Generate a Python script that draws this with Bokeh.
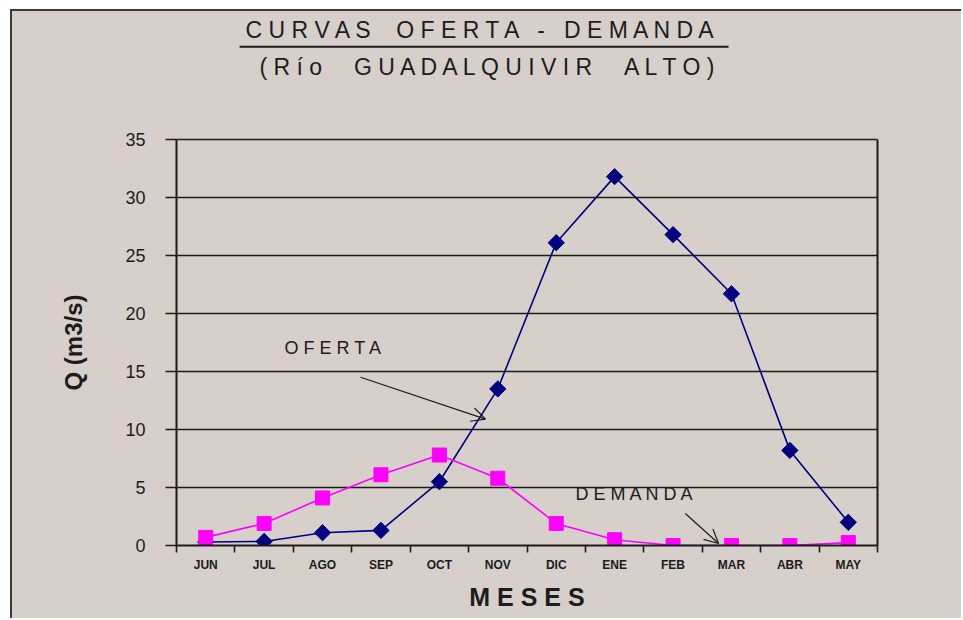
from bokeh.plotting import figure
from bokeh.models import Range1d, FixedTicker, Label, Arrow, OpenHead, LinearAxis, Title
from bokeh.embed import file_html
from bokeh.resources import INLINE

# ---- data ----
months = ["JUN", "JUL", "AGO", "SEP", "OCT", "NOV", "DIC", "ENE", "FEB", "MAR", "ABR", "MAY"]
oferta = [0.3, 0.35, 1.1, 1.3, 5.5, 13.5, 26.1, 31.8, 26.8, 21.7, 8.2, 2.0]
demanda = [0.7, 1.9, 4.1, 6.1, 7.8, 5.8, 1.9, 0.5, 0.0, 0.0, 0.0, 0.25]
y_ticks = [0, 5, 10, 15, 20, 25, 30, 35]
y_max = 35

NB = "\u00a0"
title_text = "C U R V A S " + NB * 3 + "O F E R T A " + NB * 2 + "- " + NB * 2 + "D E M A N D A"
subtitle_text = "( R í o " + NB * 4 + "G U A D A L Q U I V I R " + NB * 4 + "A L T O )"
y_label = "Q (m3/s)"
x_label = "M E S E S"

# ---- style ----
BG = "#d7cfc9"
INK = "#1c1c1c"
FONT = "Liberation Sans"
NAVY = "#000080"
MAGENTA = "#ff00ff"

PX_PER_UNIT = 406 / 35.0          # vertical scale of the frame
TOP_EXTRA = 128 / PX_PER_UNIT     # room above the 35 line for the titles

xs = [i + 0.5 for i in range(len(months))]

p = figure(width=951, height=609, output_backend="svg", toolbar_location=None,
           title_location=None,
           x_range=Range1d(0, len(months)), y_range=Range1d(0, y_max + TOP_EXTRA),
           background_fill_color=None, border_fill_color=BG,
           min_border_left=164, min_border_right=86, min_border_top=0, min_border_bottom=75)
p.styles = {"margin-left": "10px", "margin-top": "9px", "background-color": BG,
            "border-left": "2px solid #3a3a3a", "border-top": "2px solid #3a3a3a"}

p.outline_line_color = None
p.xgrid.visible = False
p.ygrid.grid_line_color = INK
p.ygrid.grid_line_width = 1.6

# y axis
p.yaxis.ticker = FixedTicker(ticks=y_ticks)
p.yaxis.bounds = (0, y_max)
p.yaxis.axis_line_color = INK
p.yaxis.axis_line_width = 2
p.yaxis.major_tick_out = 11
p.yaxis.major_tick_in = 0
p.yaxis.major_tick_line_color = INK
p.yaxis.major_tick_line_width = 1.6
p.yaxis.minor_tick_line_color = None
p.yaxis.major_label_text_font = FONT
p.yaxis.major_label_text_font_size = "18px"
p.yaxis.major_label_text_color = INK
p.yaxis.major_label_standoff = 20

# y label, placed along the 0-35 part of the frame
p.add_layout(Title(text=y_label, align="left", offset=155, standoff=71,
                   text_font=FONT, text_font_size="24px", text_font_style="bold",
                   text_color=INK), "left")

# right frame edge
ra = LinearAxis(ticker=FixedTicker(ticks=[]), bounds=(0, y_max), axis_line_color=INK, axis_line_width=2,
                major_tick_line_color=None, minor_tick_line_color=None, major_label_text_color=None)
p.add_layout(ra, "right")

# x axis
p.xaxis.ticker = FixedTicker(ticks=xs, minor_ticks=list(range(len(months) + 1)))
p.xaxis.major_label_overrides = {x: m for x, m in zip(xs, months)}
p.xaxis.axis_line_color = INK
p.xaxis.axis_line_width = 2
p.xaxis.major_tick_out = 0
p.xaxis.major_tick_in = 0
p.xaxis.minor_tick_out = 7
p.xaxis.minor_tick_in = 0
p.xaxis.minor_tick_line_color = INK
p.xaxis.minor_tick_line_width = 1.6
p.xaxis.major_label_text_font = FONT
p.xaxis.major_label_text_font_size = "12px"
p.xaxis.major_label_text_font_style = "bold"
p.xaxis.major_label_text_color = INK
p.xaxis.major_label_standoff = 5
p.xaxis.axis_label = x_label
p.xaxis.axis_label_text_font = FONT
p.xaxis.axis_label_text_font_size = "25px"
p.xaxis.axis_label_text_font_style = "bold"
p.xaxis.axis_label_text_color = INK
p.xaxis.axis_label_standoff = 8

# series
p.line(xs, oferta, line_color=NAVY, line_width=1.6)
p.scatter(xs, oferta, marker="square", angle=0.785398, size=11.5, fill_color=NAVY, line_color=NAVY)
p.line(xs, demanda, line_color=MAGENTA, line_width=1.6)
p.scatter(xs, demanda, marker="square", size=14, fill_color=MAGENTA, line_color=MAGENTA)

# annotations
p.add_layout(Label(x=1.85, y=17.0, text="O F E R T A", text_font=FONT, text_font_size="18px",
                   text_color=INK, text_baseline="middle", text_align="left"))
p.add_layout(Arrow(x_start=3.15, y_start=14.5, x_end=5.29, y_end=10.9, line_color=INK, line_width=1.2,
                   end=OpenHead(size=14, line_color=INK, line_width=1.2)))
p.add_layout(Label(x=6.83, y=4.45, text="D E M A N D A", text_font=FONT, text_font_size="18px",
                   text_color=INK, text_baseline="middle", text_align="left"))
p.add_layout(Arrow(x_start=8.71, y_start=2.76, x_end=9.28, y_end=0.17, line_color=INK, line_width=1.2,
                   end=OpenHead(size=14, line_color=INK, line_width=1.2)))

# titles
p.add_layout(Label(x=5.27, y=44.45, text=title_text, text_font=FONT, text_font_size="23px",
                   text_color=INK, text_baseline="middle", text_align="center"))
p.add_layout(Arrow(x_start=1.08, y_start=43.0, x_end=9.45, y_end=43.0, line_color=INK, line_width=2,
                   end=None))
p.add_layout(Label(x=5.39, y=41.25, text=subtitle_text, text_font=FONT, text_font_size="23px",
                   text_color=INK, text_baseline="middle", text_align="center"))

open("out.html", "w").write(file_html(p, INLINE))
